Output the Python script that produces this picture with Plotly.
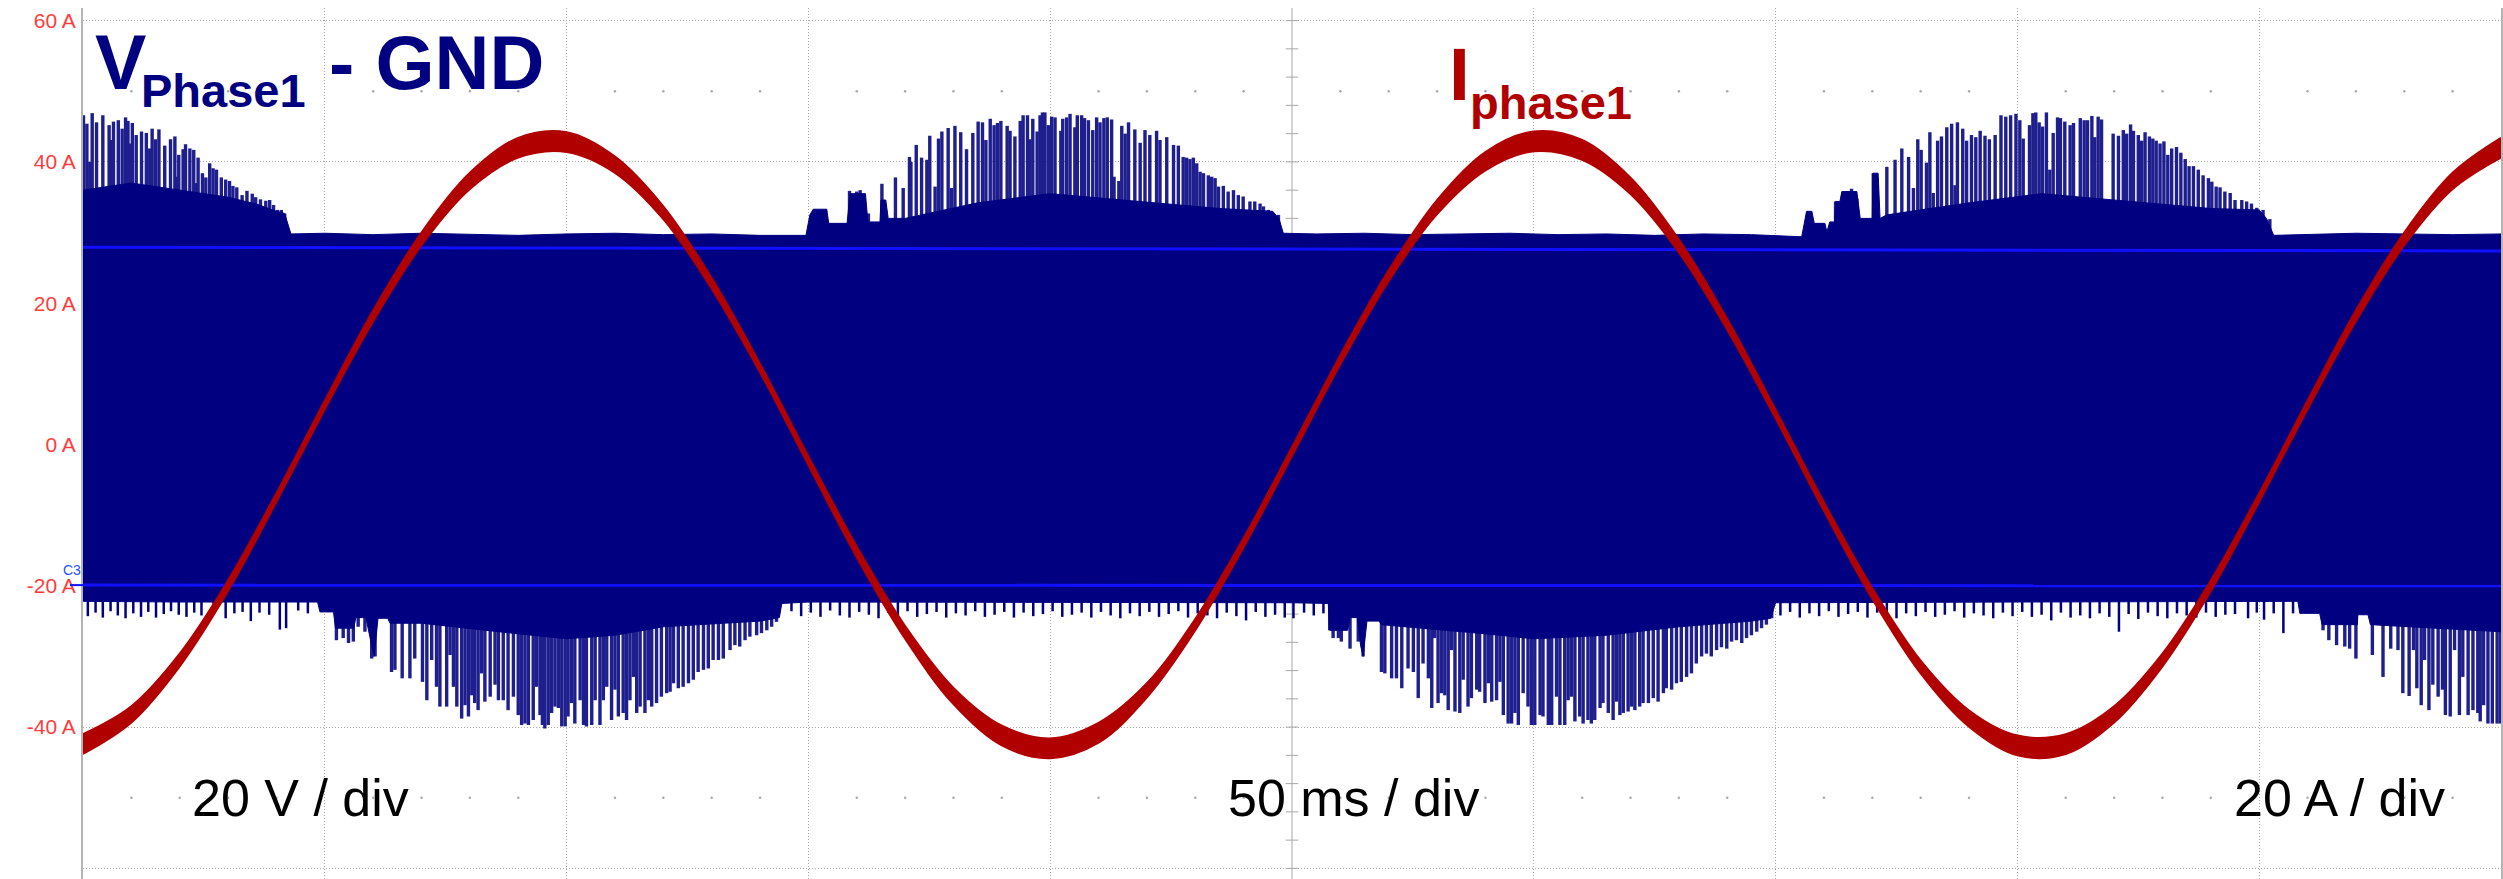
import plotly.graph_objects as go

# ------------------------------------------------------------------ data
# time base: 50 ms / div, 10 divisions
time_ms = [0, 10, 20, 30, 40, 50, 60, 70, 80, 90, 100, 110, 120, 130, 140, 150, 160, 170, 180, 190,
           200, 210, 220, 230, 240, 250, 260, 270, 280, 290, 300, 310, 320, 330, 340, 350, 360, 370,
           380, 390, 400, 410, 420, 430, 440, 450, 460, 470, 480, 490, 500]
# phase current (A)
i_phase1 = [-42.4, -38.2, -30.5, -20.0, -7.5, 5.6, 18.2, 29.1, 37.3, 42.0, 42.8, 39.6, 32.8, 22.8,
            10.8, -2.3, -15.2, -26.6, -35.6, -41.2, -43.0, -40.8, -34.8, -25.5, -13.9, -1.0, 12.0,
            23.9, 33.6, 40.1, 42.9, 41.7, 36.6, 28.1, 17.0, 4.3, -8.8, -21.1, -31.5, -38.8, -42.6,
            -42.4, -38.2, -30.5, -20.0, -7.5, 5.6, 18.2, 29.1, 37.3, 42.0]
# half-width of the noise band on the current trace (A)
i_noise = [1.4, 1.15, 0.9, 0.75, 0.6, 0.6, 0.75, 0.9, 1.15, 1.4, 1.4, 1.15, 0.9, 0.75, 0.6, 0.6,
           0.75, 0.9, 1.15, 1.4, 1.4, 1.4, 1.0, 0.8, 0.65, 0.6, 0.65, 0.75, 1.0, 1.3, 1.4, 1.4, 1.15,
           0.9, 0.75, 0.6, 0.6, 0.75, 0.9, 1.15, 1.4, 1.4, 1.15, 0.9, 0.75, 0.6, 0.6, 0.75, 0.9,
           1.15, 1.4]

# PWM voltage: solid upper envelope (dense part)
env_up_t = [0, 10, 20, 30, 36, 40, 41.7, 42.4, 43, 50, 60, 70, 80, 90, 100, 110, 120, 130, 140,
            146, 149.5, 150.3, 151, 153.8, 154.2, 158, 158.6, 161.8, 162.3, 164.8, 165, 166, 166.5,
            170, 185, 200, 215, 235, 246, 247.3, 248.2, 255, 265, 275, 285, 295, 305, 315, 325, 335,
            345, 355.4, 356.4, 357.5, 358, 360.2, 360.6, 361.2, 362.2, 362.4, 363.3, 363.7, 366.8,
            367.5, 370, 370.1, 371.2, 371.6, 373, 390, 405, 420, 440, 450, 451.5, 453, 460, 470,
            480, 490, 500]
env_up_v = [36.0, 37.0, 36.0, 35.0, 34.0, 33.0, 32.7, 31.2, 29.8, 29.9, 29.7, 29.9, 29.8, 29.6,
            29.8, 29.9, 29.7, 29.8, 29.6, 29.6, 29.6, 32.5, 33.3, 33.3, 31.3, 31.3, 35.5, 35.5, 31.5,
            31.5, 34.6, 34.6, 32.0, 32.0, 34.2, 35.5, 34.6, 33.4, 33.0, 32.0, 29.9, 29.8, 29.9, 29.7,
            29.8, 29.9, 29.7, 29.8, 29.6, 29.8, 29.7, 29.4, 33.0, 33.0, 31.3, 31.3, 30.1, 31.5, 31.5,
            34.4, 34.4, 35.8, 35.8, 32.0, 32.0, 38.4, 38.4, 32.0, 32.5, 34.2, 35.5, 34.6, 33.4, 33.2,
            32.0, 29.6, 29.7, 29.9, 29.8, 29.7, 29.8]

# PWM voltage: solid lower envelope (dense part)
env_lo_t = [0, 20, 48.5, 49, 51.8, 52.2, 56, 56.4, 58.5, 59.7, 60.2, 61, 63, 63.5, 70, 90, 100,
            110, 120, 140, 144, 144.5, 150, 200, 250, 257.5, 257.8, 261.5, 262, 263.5, 264.2, 264.7,
            265.5, 268, 268.5, 290, 300, 315, 330, 345, 349, 350, 400, 458, 458.4, 462.5, 463, 470.3,
            470.4, 472.5, 473, 500]
env_lo_v = [-22.2, -22.3, -22.3, -23.7, -23.7, -26.0, -26.0, -24.5, -24.5, -28.5, -30.0, -24.6,
            -24.6, -25.3, -25.3, -26.8, -27.5, -27.0, -25.8, -25.0, -24.5, -22.5, -22.3, -22.3, -22.4,
            -22.5, -26.3, -26.3, -24.5, -24.5, -28.5, -30.0, -25.0, -25.0, -25.5, -26.8, -27.5,
            -27.0, -25.8, -25.0, -24.6, -22.4, -22.3, -22.2, -23.9, -23.9, -25.5, -25.5, -24.1, -24.1,
            -25.5, -26.5]

# ringing spikes above the band (t in ms, peak in A)
spk_up_a_t = [0.1, 0.8, 1.4, 1.9, 2.8, 4.1, 4.8, 5.4, 5.9, 6.3, 7.3, 8.1, 8.8, 9.3, 9.6, 10.2, 11.0,
              12.1, 13.1, 13.8, 14.3, 15.0, 15.7, 16.2, 16.9, 18.1, 19.0, 19.4, 19.8, 20.7, 21.2, 21.7,
              22.1, 22.9, 23.4, 23.8, 24.7, 25.4, 26.2, 26.9, 27.6, 28.6, 29.5, 30.3, 31.0, 31.8,
              32.4, 32.9, 33.9, 35.0, 35.7, 36.7, 37.8, 38.6, 39.4, 40.2, 41.0, 41.7]
spk_up_a_v = [46.6, 45.4, 40.0, 46.9, 45.6, 46.6, 36.3, 45.2, 43.1, 45.7, 45.9, 44.7, 46.3, 45.8,
              42.6, 45.5, 43.8, 44.3, 44.1, 41.9, 44.7, 43.2, 44.6, 36.3, 42.3, 43.2, 43.6, 37.9, 41.0,
              41.8, 42.5, 34.6, 41.9, 41.7, 37.0, 40.6, 38.4, 37.8, 39.8, 39.1, 38.9, 37.8, 37.5, 37.3,
              36.6, 36.4, 34.6, 35.3, 35.9, 35.5, 35.0, 34.7, 34.5, 34.6, 33.9, 33.2, 33.2, 32.7]
spk_up_b_t = [158.5, 160.0, 160.7, 162.4, 165.2, 168.0, 169.6, 170.9, 171.2, 172.3, 173.4, 174.5,
              175.1, 176.2, 176.9, 177.6, 178.9, 179.6, 180.3, 181.5, 182.7, 184.0, 185.1, 186.0,
              186.7, 187.6, 188.4, 189.1, 189.8, 191.1, 191.7, 192.7, 193.8, 194.4, 195.3, 195.8,
              196.4, 197.3, 197.9, 198.4, 198.9, 199.6, 200.3, 201.0, 202.2, 202.6, 203.4, 204.1,
              205.1, 205.6, 206.5, 207.1, 207.9, 208.8, 209.6, 210.3, 211.1, 211.8, 212.7, 213.2,
              214.2, 214.8, 215.5, 216.2, 217.5, 218.6, 219.6, 220.6, 222.0, 222.7, 224.1, 225.5,
              226.5, 227.5, 228.2, 228.9, 229.6, 230.3, 231.0, 231.7, 232.7, 233.4, 234.1, 234.8,
              235.8, 236.8, 237.9, 238.9, 239.9, 241.3, 242.3, 243.4, 244.1, 245.1, 246.1, 247.2]
spk_up_b_v = [35.9, 35.8, 36.0, 32.7, 36.9, 37.8, 36.3, 40.7, 40.0, 42.4, 40.6, 40.3, 43.7, 36.5,
              43.3, 44.3, 44.8, 36.3, 45.1, 44.2, 41.8, 44.1, 45.7, 45.6, 43.1, 46.1, 45.2, 45.5, 45.8,
              45.1, 44.4, 43.6, 45.8, 46.6, 46.6, 43.2, 46.1, 44.3, 46.6, 47.0, 47.0, 45.2, 46.4, 46.3,
              44.4, 46.1, 46.3, 46.8, 44.9, 46.6, 46.6, 46.2, 45.9, 44.5, 46.3, 45.6, 46.2, 46.3, 46.0,
              37.9, 37.3, 45.1, 44.0, 45.6, 44.6, 42.7, 44.5, 43.8, 44.4, 43.1, 43.5, 42.4, 42.3, 40.7,
              40.6, 40.4, 40.6, 39.8, 38.6, 38.4, 38.1, 37.9, 37.7, 36.5, 36.6, 35.8, 36.0, 35.3, 35.1,
              34.4, 34.4, 34.1, 33.7, 33.2, 32.7, 32.5]
spk_up_c_t = [362.4, 364.0, 365.7, 366.8, 370.2, 371.0, 373.0, 374.7, 376.1, 377.5, 378.5, 379.4,
              380.1, 381.2, 381.9, 382.6, 383.5, 384.3, 385.4, 386.4, 387.1, 387.6, 388.7, 389.5,
              390.5, 391.4, 392.3, 393.3, 394.2, 395.4, 396.6, 397.6, 398.6, 399.7, 400.5, 401.2,
              402.5, 403.2, 403.8, 404.5, 405.2, 406.0, 406.7, 407.4, 408.3, 408.9, 409.8, 410.9,
              411.6, 413.0, 413.8, 414.5, 415.4, 416.0, 416.7, 417.4, 419.8, 420.9, 421.9, 422.6,
              423.4, 424.0, 425.0, 425.7, 426.4, 427.3, 428.0, 428.7, 429.5, 430.3, 431.1, 431.9,
              432.9, 433.8, 434.7, 435.5, 436.4, 437.4, 438.4, 439.5, 440.2, 441.1, 441.9, 442.9,
              444.0, 445.0, 446.4, 447.4, 448.4, 449.5, 450.8, 452.2]
spk_up_c_v = [34.4, 35.5, 36.2, 34.8, 38.4, 37.7, 39.3, 40.3, 41.9, 40.7, 36.3, 43.2, 41.7, 39.9,
              44.2, 35.6, 43.0, 43.6, 44.9, 45.4, 36.7, 45.6, 44.7, 43.0, 43.8, 43.5, 44.4, 43.7, 43.2,
              43.8, 46.6, 46.4, 46.6, 46.8, 45.9, 43.3, 45.2, 46.9, 47.0, 45.6, 45.0, 47.0, 38.9, 44.1,
              46.3, 46.2, 45.7, 45.2, 45.5, 46.2, 45.9, 45.9, 46.5, 43.5, 46.4, 46.0, 44.0, 43.7, 44.5,
              44.0, 45.3, 44.4, 43.8, 43.0, 44.2, 43.6, 43.3, 43.0, 42.6, 42.9, 41.0, 41.9, 42.1, 41.3,
              40.4, 39.4, 39.4, 38.9, 38.1, 37.7, 37.2, 36.5, 36.4, 35.8, 35.6, 34.6, 34.6, 34.4, 34.1,
              33.5, 33.2, 31.9]

# ringing spikes below the band
spk_lo_a_t = [52.4, 53.8, 54.9, 55.9, 56.9, 58.3, 59.7, 60.4, 63.8, 64.5, 66.0, 67.6, 68.6, 70.2,
              71.1, 72.1, 73.1, 73.8, 75.2, 75.9, 76.6, 77.3, 78.3, 79.0, 79.7, 80.4, 81.0, 81.7,
              82.4, 83.1, 84.2, 85.2, 85.9, 86.9, 87.9, 89.0, 90.0, 90.7, 91.4, 92.1, 93.1, 93.8,
              94.5, 95.0, 95.5, 96.2, 96.9, 97.6, 98.3, 99.0, 99.7, 100.3, 101.0, 101.7, 102.8,
              103.5, 104.1, 105.2, 105.9, 106.9, 107.6, 108.3, 109.3, 110.0, 110.7, 111.7, 112.4,
              113.1, 113.8, 114.5, 115.2, 116.2, 116.9, 117.6, 118.6, 119.6, 120.7, 121.4, 122.1,
              123.1, 124.1, 125.2, 126.2, 127.2, 128.3, 129.3, 130.3, 131.4, 132.4, 133.8, 134.8,
              135.8, 136.9, 137.9, 139.3, 140.3, 141.4, 142.4, 143.4]
spk_lo_a_v = [-27.7, -27.4, -28.1, -27.9, -25.8, -26.5, -30.3, -30.0, -32.2, -31.9, -33.1, -33.1,
              -30.3, -33.6, -36.2, -30.5, -34.3, -37.1, -37.1, -29.8, -34.3, -37.1, -38.8, -36.9,
              -38.5, -35.5, -36.6, -37.6, -32.4, -36.4, -35.7, -34.0, -36.2, -36.2, -37.6, -35.7,
              -38.3, -39.7, -39.5, -39.7, -39.0, -34.3, -38.3, -39.7, -40.2, -39.7, -38.0, -37.1,
              -37.3, -39.9, -39.9, -38.5, -36.6, -39.5, -36.2, -39.7, -39.9, -39.7, -36.2, -39.7,
              -36.2, -34.3, -39.0, -34.7, -38.5, -38.0, -39.0, -36.2, -32.9, -38.0, -37.1, -38.0,
              -36.2, -37.1, -36.6, -35.7, -35.2, -35.0, -33.8, -34.5, -34.3, -33.8, -33.3, -32.2,
              -31.9, -31.7, -30.5, -30.5, -30.3, -29.1, -28.4, -28.6, -27.7, -27.2, -27.0, -26.7,
              -26.3, -25.8, -25.1]
spk_lo_b_t = [257.8, 258.5, 259.6, 260.2, 262.0, 263.7, 264.7, 268.5, 269.2, 270.6, 271.6, 272.7,
              274.0, 275.1, 276.1, 277.1, 278.2, 278.9, 279.5, 280.2, 280.9, 281.6, 282.3, 283.0,
              283.7, 284.7, 285.4, 286.4, 287.1, 288.2, 288.8, 289.9, 290.6, 291.3, 292.3, 293.0,
              293.7, 294.7, 295.4, 296.1, 296.8, 297.8, 298.8, 299.5, 300.2, 301.3, 301.9, 303.0,
              303.7, 304.7, 305.4, 306.4, 307.1, 307.8, 308.5, 309.5, 310.2, 311.2, 311.9, 312.6,
              313.7, 314.3, 315.4, 316.4, 317.1, 317.8, 318.5, 319.5, 320.2, 320.9, 321.9, 322.6,
              323.7, 324.7, 325.7, 326.8, 327.4, 328.5, 329.5, 330.5, 331.6, 332.6, 333.6, 334.7,
              335.7, 336.7, 337.8, 338.8, 339.9, 340.9, 341.9, 343.0, 344.0, 345.0, 346.1, 347.1,
              348.1, 349.2]
spk_lo_b_v = [-26.3, -27.4, -27.4, -27.9, -28.9, -27.9, -30.0, -32.2, -32.4, -33.1, -33.1, -34.5,
              -31.7, -32.2, -35.9, -31.0, -33.1, -37.3, -27.4, -36.6, -35.2, -35.5, -37.6, -29.1,
              -37.8, -38.0, -33.3, -37.1, -35.9, -34.7, -35.0, -36.6, -33.8, -36.4, -36.2, -33.6,
              -38.3, -39.5, -39.5, -38.0, -39.7, -35.2, -37.1, -39.7, -39.7, -38.3, -38.5, -39.7,
              -39.7, -35.7, -39.7, -39.7, -36.2, -35.7, -39.2, -38.5, -39.5, -39.0, -39.5, -39.0,
              -37.3, -36.6, -38.0, -39.0, -36.4, -38.3, -38.0, -37.8, -37.1, -37.6, -37.1, -36.6,
              -36.6, -35.9, -36.4, -35.2, -34.5, -34.7, -33.8, -33.6, -32.9, -32.4, -31.0, -30.0,
              -29.6, -30.0, -29.1, -28.7, -28.9, -27.9, -27.7, -28.1, -27.4, -27.0, -26.5, -26.0,
              -25.5, -24.6]
spk_lo_c_t = [463.2, 464.4, 466.0, 467.7, 468.7, 470.0, 473.4, 475.6, 477.2, 478.7, 479.7, 481.0,
              481.9, 482.6, 483.5, 484.2, 485.1, 485.9, 487.0, 487.9, 488.5, 489.5, 490.4, 491.4,
              492.1, 493.2, 494.2, 495.2, 495.7, 496.4, 497.3, 498.2, 499.2, 499.9]
spk_lo_c_v = [-26.3, -27.7, -28.4, -28.6, -28.9, -30.3, -29.8, -32.9, -28.9, -29.1, -35.2, -35.6,
              -29.1, -34.5, -36.9, -30.5, -37.6, -34.0, -35.7, -34.7, -38.3, -38.5, -29.1, -38.3,
              -32.9, -38.3, -37.6, -38.0, -39.2, -36.9, -39.5, -39.5, -39.5, -39.5]

# small switching spikes along the flat lower edge
fringe_t = [1.0, 2.6, 4.1, 5.7, 7.2, 8.8, 10.4, 12.0, 13.5, 15.1, 16.7, 18.2, 19.8, 21.4, 23.0, 24.5,
            27.0, 29.5, 31.3, 33.0, 34.7, 36.5, 38.5, 40.7, 42.0, 44.5, 46.5,
            146.5, 148.5, 150.5, 152.5, 154.5, 156.5, 158.5, 160.5, 162.5, 164.5, 166.5, 168.5,
            170.5, 172.5, 174.5, 176.5, 178.5, 180.5, 182.5, 184.5, 186.5, 188.5, 190.5, 192.5,
            194.5, 196.5, 198.5, 200.5, 202.5, 204.5, 206.5, 208.5, 210.5, 212.5, 214.5, 216.5,
            218.5, 220.5, 222.5, 224.5, 226.5, 228.5, 230.5, 232.5, 234.5, 236.5, 238.5, 240.5,
            242.5, 244.5, 246.5, 248.5, 250.3, 252.5, 254.5, 256.5,
            351.0, 353.0, 355.0, 357.0, 359.0, 361.0, 363.0, 365.0, 367.0, 369.0, 371.0, 373.0,
            375.0, 377.0, 379.0, 381.0, 383.0, 385.0, 387.0, 389.0, 391.0, 393.0, 395.0, 397.0,
            399.0, 401.0, 403.0, 405.0, 407.0, 409.0, 411.0, 413.0, 415.0, 417.0, 419.0, 421.0,
            423.0, 425.0, 427.0, 429.0, 431.0, 433.0, 435.0, 437.0, 439.0, 441.0, 443.0, 445.0,
            447.7, 449.5, 451.0, 453.0, 455.0, 457.0]
fringe_v = [-24.3, -23.8, -24.5, -23.6, -24.2, -24.6, -23.9, -24.4, -23.7, -24.5, -24.0, -23.6,
            -24.1, -24.4, -23.8, -24.2, -23.6, -24.6, -23.9, -23.7, -25.0, -23.8, -24.1, -26.2,
            -26.0, -23.5, -23.9,
            -23.6, -24.3, -23.8, -24.4, -23.5, -24.2, -24.5, -23.7, -24.1, -24.6, -23.8, -24.3,
            -23.6, -24.4, -24.0, -23.7, -24.5, -23.9, -24.2, -23.6, -24.4, -24.1, -23.7, -24.5,
            -23.8, -24.3, -24.0, -23.6, -24.4, -24.1, -23.8, -24.5, -23.7, -24.2, -24.6, -23.9,
            -24.3, -23.7, -24.4, -24.0, -23.6, -24.5, -23.9, -24.2, -24.6, -23.8, -24.3, -24.9,
            -23.7, -24.4, -24.1, -24.5, -24.6, -23.8, -24.2, -23.9,
            -24.2, -23.7, -24.5, -23.9, -24.3, -23.6, -24.4, -24.0, -23.7, -24.5, -23.8, -24.2,
            -24.6, -23.9, -24.3, -23.7, -24.4, -24.1, -23.6, -24.5, -23.9, -24.2, -24.6, -23.8,
            -24.3, -23.7, -24.4, -24.1, -24.9, -23.8, -24.5, -24.2, -24.6, -23.9, -24.4, -26.5,
            -24.0, -24.7, -23.8, -24.3, -24.6, -23.9, -24.2, -24.5, -23.8, -24.4, -24.1, -24.0,
            -24.6, -23.8, -24.8, -23.9, -26.7, -23.9]

# channel reference markers (bright blue lines)
ref_upper_t = [0, 500]
ref_upper_v = [27.9, 27.4]
ref_lower_t = [0, 500]
ref_lower_v = [-19.9, -20.0]

y_ticks = [-60, -40, -20, 0, 20, 40, 60]
y_tick_text = ["-60 A", "-40 A", "-20 A", "0 A", "20 A", "40 A", "60 A"]
x_grid = [50, 100, 150, 200, 300, 350, 400, 450]
minor_t = [t for t in range(10, 500, 10) if t % 50 != 0]
center_ticks = [v for v in range(-60, 61, 4)]

# ------------------------------------------------------------------ geometry / style
W, H = 2503, 879
ML, MR, MT, MB = 83, 2, 8, 0
PW, PH = W - ML - MR, H - MT - MB
FONT = "Liberation Sans, Arial, Helvetica, sans-serif"
NAVY = "#000080"
SPIKE = "#1e1e8e"
RED = "#b00000"
GRID = "#a8a8a8"


def px_x(px):
    return (px - ML) / PW


def px_y(py):
    return (H - MB - py) / PH


def segments(ts, vs, base):
    xs, ys = [], []
    for t, v in zip(ts, vs):
        xs += [t, t, None]
        ys += [base, v, None]
    return xs, ys


fig = go.Figure()

# minor graticule dots and centre-line ticks
fig.add_trace(go.Scatter(x=minor_t + minor_t, y=[50] * len(minor_t) + [-50] * len(minor_t),
                         mode="markers", marker=dict(size=2.5, color=GRID), hoverinfo="skip"))
fig.add_trace(go.Scatter(x=[250] * len(center_ticks), y=center_ticks, mode="markers",
                         marker=dict(symbol="line-ew", size=9, line=dict(width=1, color=GRID)),
                         hoverinfo="skip"))

# spikes
up_t = spk_up_a_t + spk_up_b_t + spk_up_c_t
up_v = spk_up_a_v + spk_up_b_v + spk_up_c_v
lo_t = spk_lo_a_t + spk_lo_b_t + spk_lo_c_t
lo_v = spk_lo_a_v + spk_lo_b_v + spk_lo_c_v
sx, sy = segments(up_t, up_v, 29.0)
fig.add_trace(go.Scatter(x=sx, y=sy, mode="lines", line=dict(color=SPIKE, width=3.4), hoverinfo="skip"))
sx, sy = segments(lo_t, lo_v, -21.5)
fig.add_trace(go.Scatter(x=sx, y=sy, mode="lines", line=dict(color=SPIKE, width=3.4), hoverinfo="skip"))
sx, sy = segments(fringe_t, fringe_v, -21.5)
fig.add_trace(go.Scatter(x=sx, y=sy, mode="lines", line=dict(color=NAVY, width=2.5), hoverinfo="skip"))

# dense PWM band
band_x = env_up_t + env_lo_t[::-1]
band_y = env_up_v + env_lo_v[::-1]
fig.add_trace(go.Scatter(x=band_x, y=band_y, mode="lines", fill="toself", fillcolor=NAVY,
                         line=dict(color=NAVY, width=1), hoverinfo="skip"))

# bright blue reference lines
fig.add_trace(go.Scatter(x=ref_upper_t, y=ref_upper_v, mode="lines",
                         line=dict(color="#1010ff", width=3), hoverinfo="skip"))
fig.add_trace(go.Scatter(x=ref_lower_t, y=ref_lower_v, mode="lines",
                         line=dict(color="#1010ff", width=3), hoverinfo="skip"))

# phase current (noisy trace drawn as a thin band)
i_lo = [v - n for v, n in zip(i_phase1, i_noise)]
i_hi = [v + n for v, n in zip(i_phase1, i_noise)]
fig.add_trace(go.Scatter(x=time_ms, y=i_lo, mode="lines", line=dict(color=RED, width=2, shape="spline"),
                         hoverinfo="skip"))
fig.add_trace(go.Scatter(x=time_ms, y=i_hi, mode="lines", fill="tonexty", fillcolor=RED,
                         line=dict(color=RED, width=2, shape="spline"), hoverinfo="skip"))

# centre graticule lines
fig.add_shape(type="line", xref="x", yref="paper", x0=250, x1=250, y0=0, y1=1,
              line=dict(color=GRID, width=1), layer="below")
fig.add_shape(type="line", xref="paper", yref="y", x0=0, x1=1, y0=0, y1=0,
              line=dict(color=GRID, width=1), layer="below")
# C3 marker
fig.add_shape(type="line", xref="paper", yref="y", x0=px_x(70), x1=px_x(83), y0=-19.9, y1=-19.9,
              line=dict(color="#1010ff", width=2))

ann = []


def label(text, px, py_bottom, size, color, bold=False, xanchor="left"):
    ann.append(dict(text=("<b>%s</b>" % text) if bold else text, x=px_x(px), y=px_y(py_bottom),
                    xref="paper", yref="paper", xanchor=xanchor, yanchor="bottom", showarrow=False,
                    font=dict(family=FONT, size=size, color=color)))


label("V", 93, 107, 77, NAVY, True)
label("Phase1", 139, 119, 47, NAVY, True)
label("- GND", 327, 107, 76, NAVY, True)
label("I", 1447, 118, 75, RED, True)
label("phase1", 1468, 131, 47, RED, True)
label("20 V / div", 190, 829, 52, "black")
label("50 ms / div", 1226, 829, 52, "black")
label("20 A / div", 2232, 829, 52, "black")
ann.append(dict(text="C3", x=px_x(72), y=-17.7, xref="paper", yref="y", xanchor="center",
                yanchor="middle", showarrow=False, font=dict(family=FONT, size=14, color="#2850ff")))

fig.update_layout(width=W, height=H, margin=dict(l=ML, r=MR, t=MT, b=MB, pad=0),
                  paper_bgcolor="white", plot_bgcolor="white", showlegend=False,
                  annotations=ann, font=dict(family=FONT))
fig.update_xaxes(range=[0, 500], tickvals=x_grid, showticklabels=False, ticks="",
                 showgrid=True, gridcolor=GRID, gridwidth=1, griddash="1px,2px",
                 zeroline=False, showline=False, fixedrange=True)
fig.update_yaxes(range=[-61.5, 61.78], tickvals=y_ticks, ticktext=y_tick_text,
                 tickfont=dict(family=FONT, size=21, color="#ff3c3c"),
                 ticks="outside", ticklen=1, tickcolor="rgba(0,0,0,0)",
                 showgrid=True, gridcolor=GRID, gridwidth=1, griddash="1px,2px",
                 zeroline=False, showline=True, linecolor="#b4b4b4", linewidth=2, mirror=True,
                 fixedrange=True)

fig.write_html("out.html", config={"displayModeBar": False},
               post_script="document.body.style.margin='0';document.body.style.overflow='hidden';")
